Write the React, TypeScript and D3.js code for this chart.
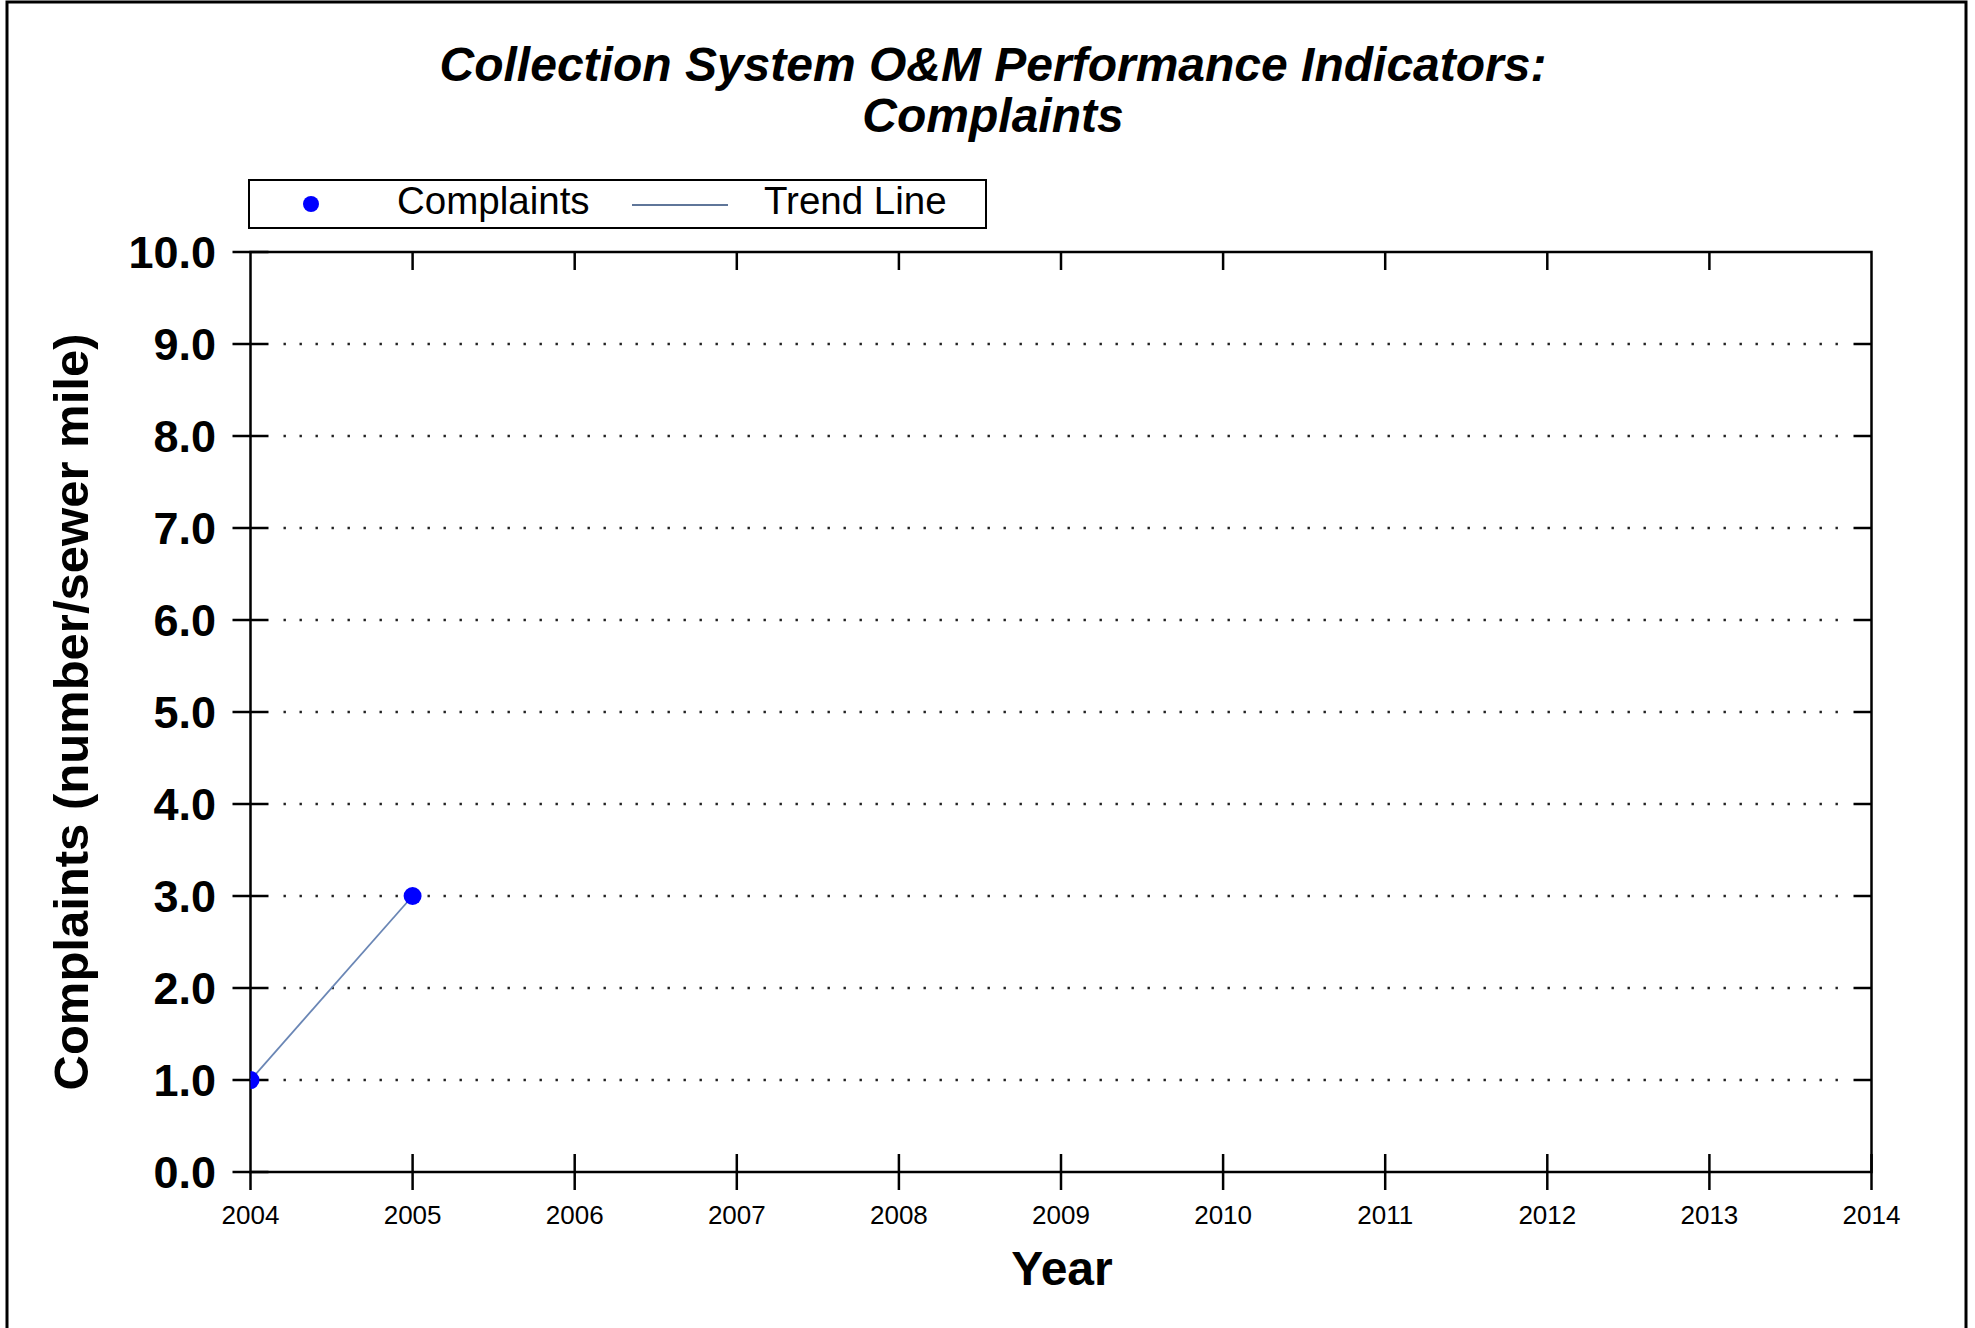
import React from "react";
import * as d3 from "d3";

// values
const years = [2004, 2005];
const complaints = [1.0, 3.0];
const xDomain = [2004, 2014];
const yDomain = [0, 10];
const titleLines = ["Collection System O&M Performance Indicators:", "Complaints"];
const legendLabels = ["Complaints", "Trend Line"];

const W = 1975;
const H = 1328;
const margin = { left: 250.5, right: W - 1871.5, top: 252, bottom: H - 1172 };

export default function App() {
  const x = d3.scaleLinear().domain(xDomain).range([margin.left, W - margin.right]);
  const y = d3.scaleLinear().domain(yDomain).range([H - margin.bottom, margin.top]);
  const xTicks = x.ticks(10);
  const yTicks = y.ticks(10);
  const points = years.map((yr, i) => ({ yr, v: complaints[i] }));
  const line = d3
    .line<{ yr: number; v: number }>()
    .x((d) => x(d.yr))
    .y((d) => y(d.v));

  const [x0, x1] = x.range();
  const [yb, yt] = y.range();
  const font = "'Liberation Sans', Arial, sans-serif";
  const tick = 18;

  return (
    <svg width={W} height={H} style={{ position: "absolute", left: 0, top: 0, background: "#fff" }} fontFamily={font}>
      <defs>
        <clipPath id="plot">
          <rect x={x0} y={yt - 20} width={x1 - x0} height={yb - yt + 40} />
        </clipPath>
      </defs>
      <rect x={7} y={2} width={1959} height={1335} fill="none" stroke="#000" strokeWidth={3} />

      {/* title */}
      <text x={993} y={81} textAnchor="middle" fontSize={48} fontWeight="bold" fontStyle="italic">
        {titleLines[0]}
      </text>
      <text x={993} y={132} textAnchor="middle" fontSize={48} fontWeight="bold" fontStyle="italic">
        {titleLines[1]}
      </text>

      {/* legend */}
      <rect x={249} y={180} width={737} height={48} fill="#fff" stroke="#000" strokeWidth={2} />
      <circle cx={311} cy={204} r={8} fill="#0000ff" />
      <text x={397} y={214} fontSize={38.5}>{legendLabels[0]}</text>
      <line x1={632} x2={728} y1={205} y2={205} stroke="#5f7699" strokeWidth={2} />
      <text x={764} y={214} fontSize={38.5}>{legendLabels[1]}</text>

      {/* grid */}
      {yTicks
        .filter((t) => t > yDomain[0] && t < yDomain[1])
        .map((t) => (
          <line
            key={"g" + t}
            x1={x0 + tick + 15}
            x2={x1 - tick - 2}
            y1={y(t)}
            y2={y(t)}
            stroke="#222"
            strokeWidth={2.4}
            strokeDasharray="2.4,13.6"
          />
        ))}

      {/* frame */}
      <rect x={x0} y={yt} width={x1 - x0} height={yb - yt} fill="none" stroke="#000" strokeWidth={2.5} />

      {/* x ticks */}
      {xTicks.map((t) => (
        <g key={"x" + t}>
          <line x1={x(t)} x2={x(t)} y1={yb - (t === xDomain[0] ? 0 : tick)} y2={yb + tick} stroke="#000" strokeWidth={2.5} />
          {t !== xDomain[0] && t !== xDomain[1] && (
            <line x1={x(t)} x2={x(t)} y1={yt} y2={yt + tick} stroke="#000" strokeWidth={2.5} />
          )}
          <text x={x(t)} y={1224} textAnchor="middle" fontSize={26}>
            {t}
          </text>
        </g>
      ))}

      {/* y ticks */}
      {yTicks.map((t) => (
        <g key={"y" + t}>
          <line x1={x0 - tick} x2={x0 + tick} y1={y(t)} y2={y(t)} stroke="#000" strokeWidth={2.5} />
          {t > yDomain[0] && t < yDomain[1] && (
            <line x1={x1 - tick} x2={x1} y1={y(t)} y2={y(t)} stroke="#000" strokeWidth={2.5} />
          )}
          <text x={216} y={y(t)} dy="0.36em" textAnchor="end" fontSize={45} fontWeight="bold">
            {t.toFixed(1)}
          </text>
        </g>
      ))}

      {/* axis titles */}
      <text x={1062} y={1285} textAnchor="middle" fontSize={48} fontWeight="bold">
        Year
      </text>
      <text transform="translate(88,712) rotate(-90)" textAnchor="middle" fontSize={49} fontWeight="bold">
        Complaints (number/sewer mile)
      </text>

      {/* data */}
      <g clipPath="url(#plot)">
        <path d={line(points) ?? ""} fill="none" stroke="#6a86b5" strokeWidth={1.8} />
        {points.map((p) => (
          <circle key={p.yr} cx={x(p.yr)} cy={y(p.v)} r={9} fill="#0000ff" />
        ))}
      </g>
    </svg>
  );
}
